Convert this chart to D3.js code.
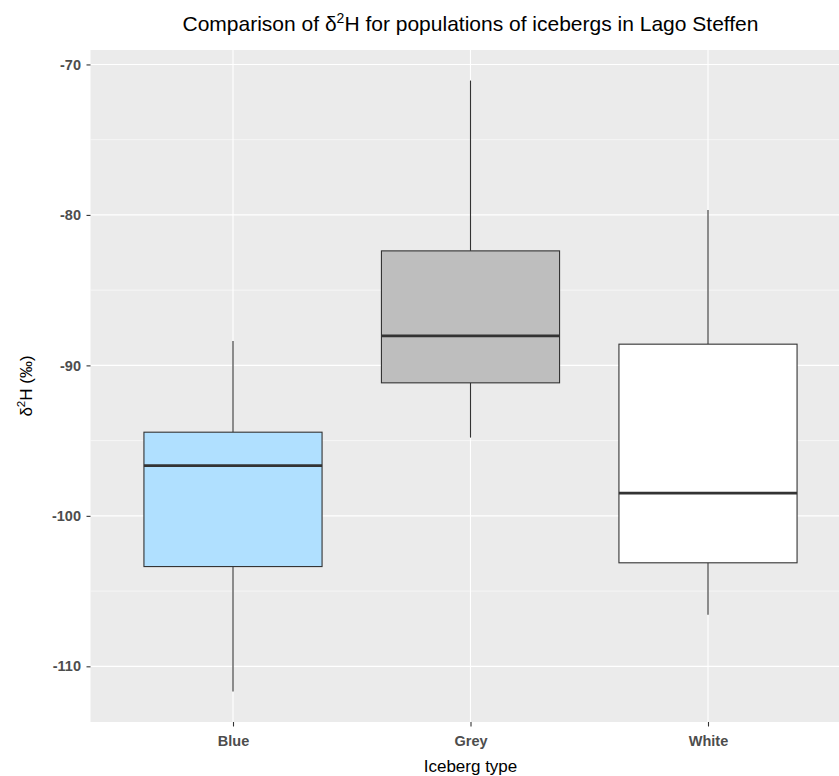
<!DOCTYPE html>
<html>
<head>
<meta charset="utf-8">
<script src="https://cdn.jsdelivr.net/npm/d3@7"></script>
<style>
  html, body { margin: 0; padding: 0; background: #fff; }
  svg { display: block; font-family: "Liberation Sans", Arial, sans-serif; }
</style>
</head>
<body>
<svg id="chart" width="839" height="776"></svg>
<script>
// Iceberg populations and their box statistics (δ²H, ‰)
const categories = ["Blue", "Grey", "White"];
const whiskerLow  = [-111.67, -94.80, -106.58];
const q1          = [-103.37, -91.16, -103.12];
const median      = [-96.66, -88.04, -98.49];
const q3          = [-94.44, -82.39, -88.59];
const whiskerHigh = [-88.38, -71.07, -79.67];
const fills       = ["#B0E0FF", "#BEBEBE", "#FFFFFF"];
const yTicks      = [-110, -100, -90, -80, -70];
const yMinor      = [-105, -95, -85, -75];

const boxes = categories.map((c, i) => ({
  cat: c, lo: whiskerLow[i], q1: q1[i], med: median[i], q3: q3[i], hi: whiskerHigh[i], fill: fills[i]
}));

const svg = d3.select("#chart");
const panel = { left: 90.5, right: 850.5, top: 50, bottom: 722 };
const font = "'Liberation Sans', Arial, sans-serif";

// y domain with 5% expansion around the data range
const dMin = d3.min(whiskerLow), dMax = d3.max(whiskerHigh);
const pad = (dMax - dMin) * 0.05;
const y = d3.scaleLinear().domain([dMin - pad, dMax + pad]).range([panel.bottom, panel.top]);

// discrete x with 0.6 unit padding on each side
const xPos = d3.scaleLinear().domain([0.4, categories.length + 0.6]).range([panel.left, panel.right]);
const x = c => xPos(categories.indexOf(c) + 1);
const unit = xPos(2) - xPos(1);
const boxW = unit * 0.75;

// panel background
svg.append("rect")
  .attr("x", panel.left).attr("y", panel.top)
  .attr("width", panel.right - panel.left).attr("height", panel.bottom - panel.top)
  .attr("fill", "#EBEBEB");

// grid lines
const grid = svg.append("g");
grid.selectAll(".minor").data(yMinor).join("line")
  .attr("x1", panel.left).attr("x2", panel.right)
  .attr("y1", d => y(d)).attr("y2", d => y(d))
  .attr("stroke", "#fff").attr("stroke-width", 0.55);
grid.selectAll(".major").data(yTicks).join("line")
  .attr("x1", panel.left).attr("x2", panel.right)
  .attr("y1", d => y(d)).attr("y2", d => y(d))
  .attr("stroke", "#fff").attr("stroke-width", 1.1);
grid.selectAll(".vmajor").data(categories).join("line")
  .attr("x1", d => x(d)).attr("x2", d => x(d))
  .attr("y1", panel.top).attr("y2", panel.bottom)
  .attr("stroke", "#fff").attr("stroke-width", 1.1);

// y axis (plain hyphen for negative labels)
const yAxis = d3.axisLeft(y).tickValues(yTicks).tickSize(4).tickPadding(5.5).tickFormat(d => String(d));
const gy = svg.append("g").attr("transform", `translate(${panel.left},0)`).call(yAxis);
gy.select(".domain").remove();
gy.selectAll(".tick line").attr("stroke", "#333").attr("stroke-width", 1.1);
gy.selectAll(".tick text")
  .attr("fill", "#4D4D4D").attr("font-size", "14.5px").attr("font-weight", "bold")
  .attr("font-family", font);

// x axis
const xBand = d3.scaleOrdinal().domain(categories).range(categories.map(c => x(c)));
const xAxis = d3.axisBottom(xBand).tickSize(4.5).tickPadding(9.5);
const gx = svg.append("g").attr("transform", `translate(0,${panel.bottom})`).call(xAxis);
gx.select(".domain").remove();
gx.selectAll(".tick line").attr("stroke", "#333").attr("stroke-width", 1.1);
gx.selectAll(".tick text")
  .attr("fill", "#4D4D4D").attr("font-size", "14.5px").attr("font-weight", "bold")
  .attr("font-family", font);

// boxplots
const g = svg.append("g");
const bx = g.selectAll("g.box").data(boxes).join("g").attr("class", "box");
bx.append("line")
  .attr("x1", d => x(d.cat)).attr("x2", d => x(d.cat))
  .attr("y1", d => y(d.hi)).attr("y2", d => y(d.q3))
  .attr("stroke", "#333").attr("stroke-width", 1.1);
bx.append("line")
  .attr("x1", d => x(d.cat)).attr("x2", d => x(d.cat))
  .attr("y1", d => y(d.q1)).attr("y2", d => y(d.lo))
  .attr("stroke", "#333").attr("stroke-width", 1.1);
bx.append("rect")
  .attr("x", d => x(d.cat) - boxW / 2).attr("width", boxW)
  .attr("y", d => y(d.q3)).attr("height", d => y(d.q1) - y(d.q3))
  .attr("fill", d => d.fill).attr("stroke", "#333").attr("stroke-width", 1.1);
bx.append("line")
  .attr("x1", d => x(d.cat) - boxW / 2).attr("x2", d => x(d.cat) + boxW / 2)
  .attr("y1", d => y(d.med)).attr("y2", d => y(d.med))
  .attr("stroke", "#333").attr("stroke-width", 2.6);

// title
const title = svg.append("text")
  .attr("x", (panel.left + panel.right) / 2).attr("y", 31)
  .attr("text-anchor", "middle").attr("font-size", "21px").attr("fill", "#000")
  .attr("font-family", font);
title.append("tspan").text("Comparison of δ");
title.append("tspan").attr("dy", -8).attr("font-size", "14px").text("2");
title.append("tspan").attr("dy", 8).text("H for populations of icebergs in Lago Steffen");

// axis titles
svg.append("text")
  .attr("x", (panel.left + panel.right) / 2).attr("y", 772)
  .attr("text-anchor", "middle").attr("font-size", "17px").attr("fill", "#000")
  .attr("font-family", font)
  .text("Iceberg type");

const yl = svg.append("text")
  .attr("transform", `translate(32,${(panel.top + panel.bottom) / 2}) rotate(-90)`)
  .attr("text-anchor", "middle").attr("font-size", "17px").attr("fill", "#000")
  .attr("font-family", font);
yl.append("tspan").text("δ");
yl.append("tspan").attr("dy", -7).attr("font-size", "11.5px").text("2");
yl.append("tspan").attr("dy", 7).text("H (‰)");
</script>
</body>
</html>
